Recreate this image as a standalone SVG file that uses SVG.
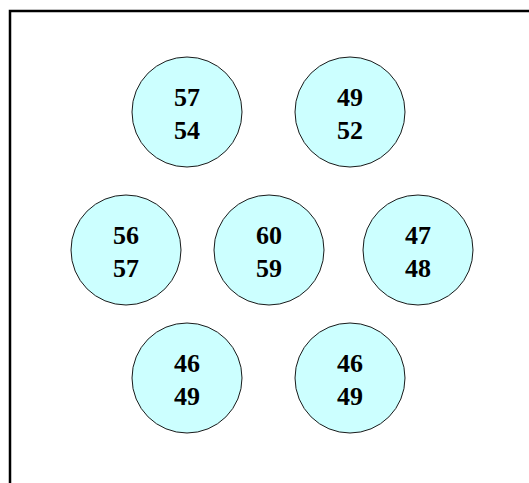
<svg xmlns="http://www.w3.org/2000/svg" width="529" height="483" viewBox="0 0 529 483">
<style>
.n circle{fill:#ccffff;stroke:#1a1a1a;stroke-width:1}
.n text{font-family:"Liberation Serif","Times New Roman",serif;font-weight:bold;font-size:26px;fill:#000;text-anchor:middle}
</style>
<rect x="0" y="0" width="529" height="483" fill="#fff"/>
<rect x="10" y="11" width="540" height="500" fill="none" stroke="#000" stroke-width="2.5"/>
<g id="connectors"></g>
<g id="n1" class="n"><circle cx="187" cy="112" r="55"/><text x="187" y="106">57</text><text x="187" y="139">54</text></g>
<g id="n2" class="n"><circle cx="350" cy="112" r="55"/><text x="350" y="106">49</text><text x="350" y="139">52</text></g>
<g id="n3" class="n"><circle cx="126" cy="250" r="55"/><text x="126" y="244">56</text><text x="126" y="277">57</text></g>
<g id="n4" class="n"><circle cx="269" cy="250" r="55"/><text x="269" y="244">60</text><text x="269" y="277">59</text></g>
<g id="n5" class="n"><circle cx="418" cy="250" r="55"/><text x="418" y="244">47</text><text x="418" y="277">48</text></g>
<g id="n6" class="n"><circle cx="187" cy="378" r="55"/><text x="187" y="372">46</text><text x="187" y="405">49</text></g>
<g id="n7" class="n"><circle cx="350" cy="378" r="55"/><text x="350" y="372">46</text><text x="350" y="405">49</text></g>
</svg>
